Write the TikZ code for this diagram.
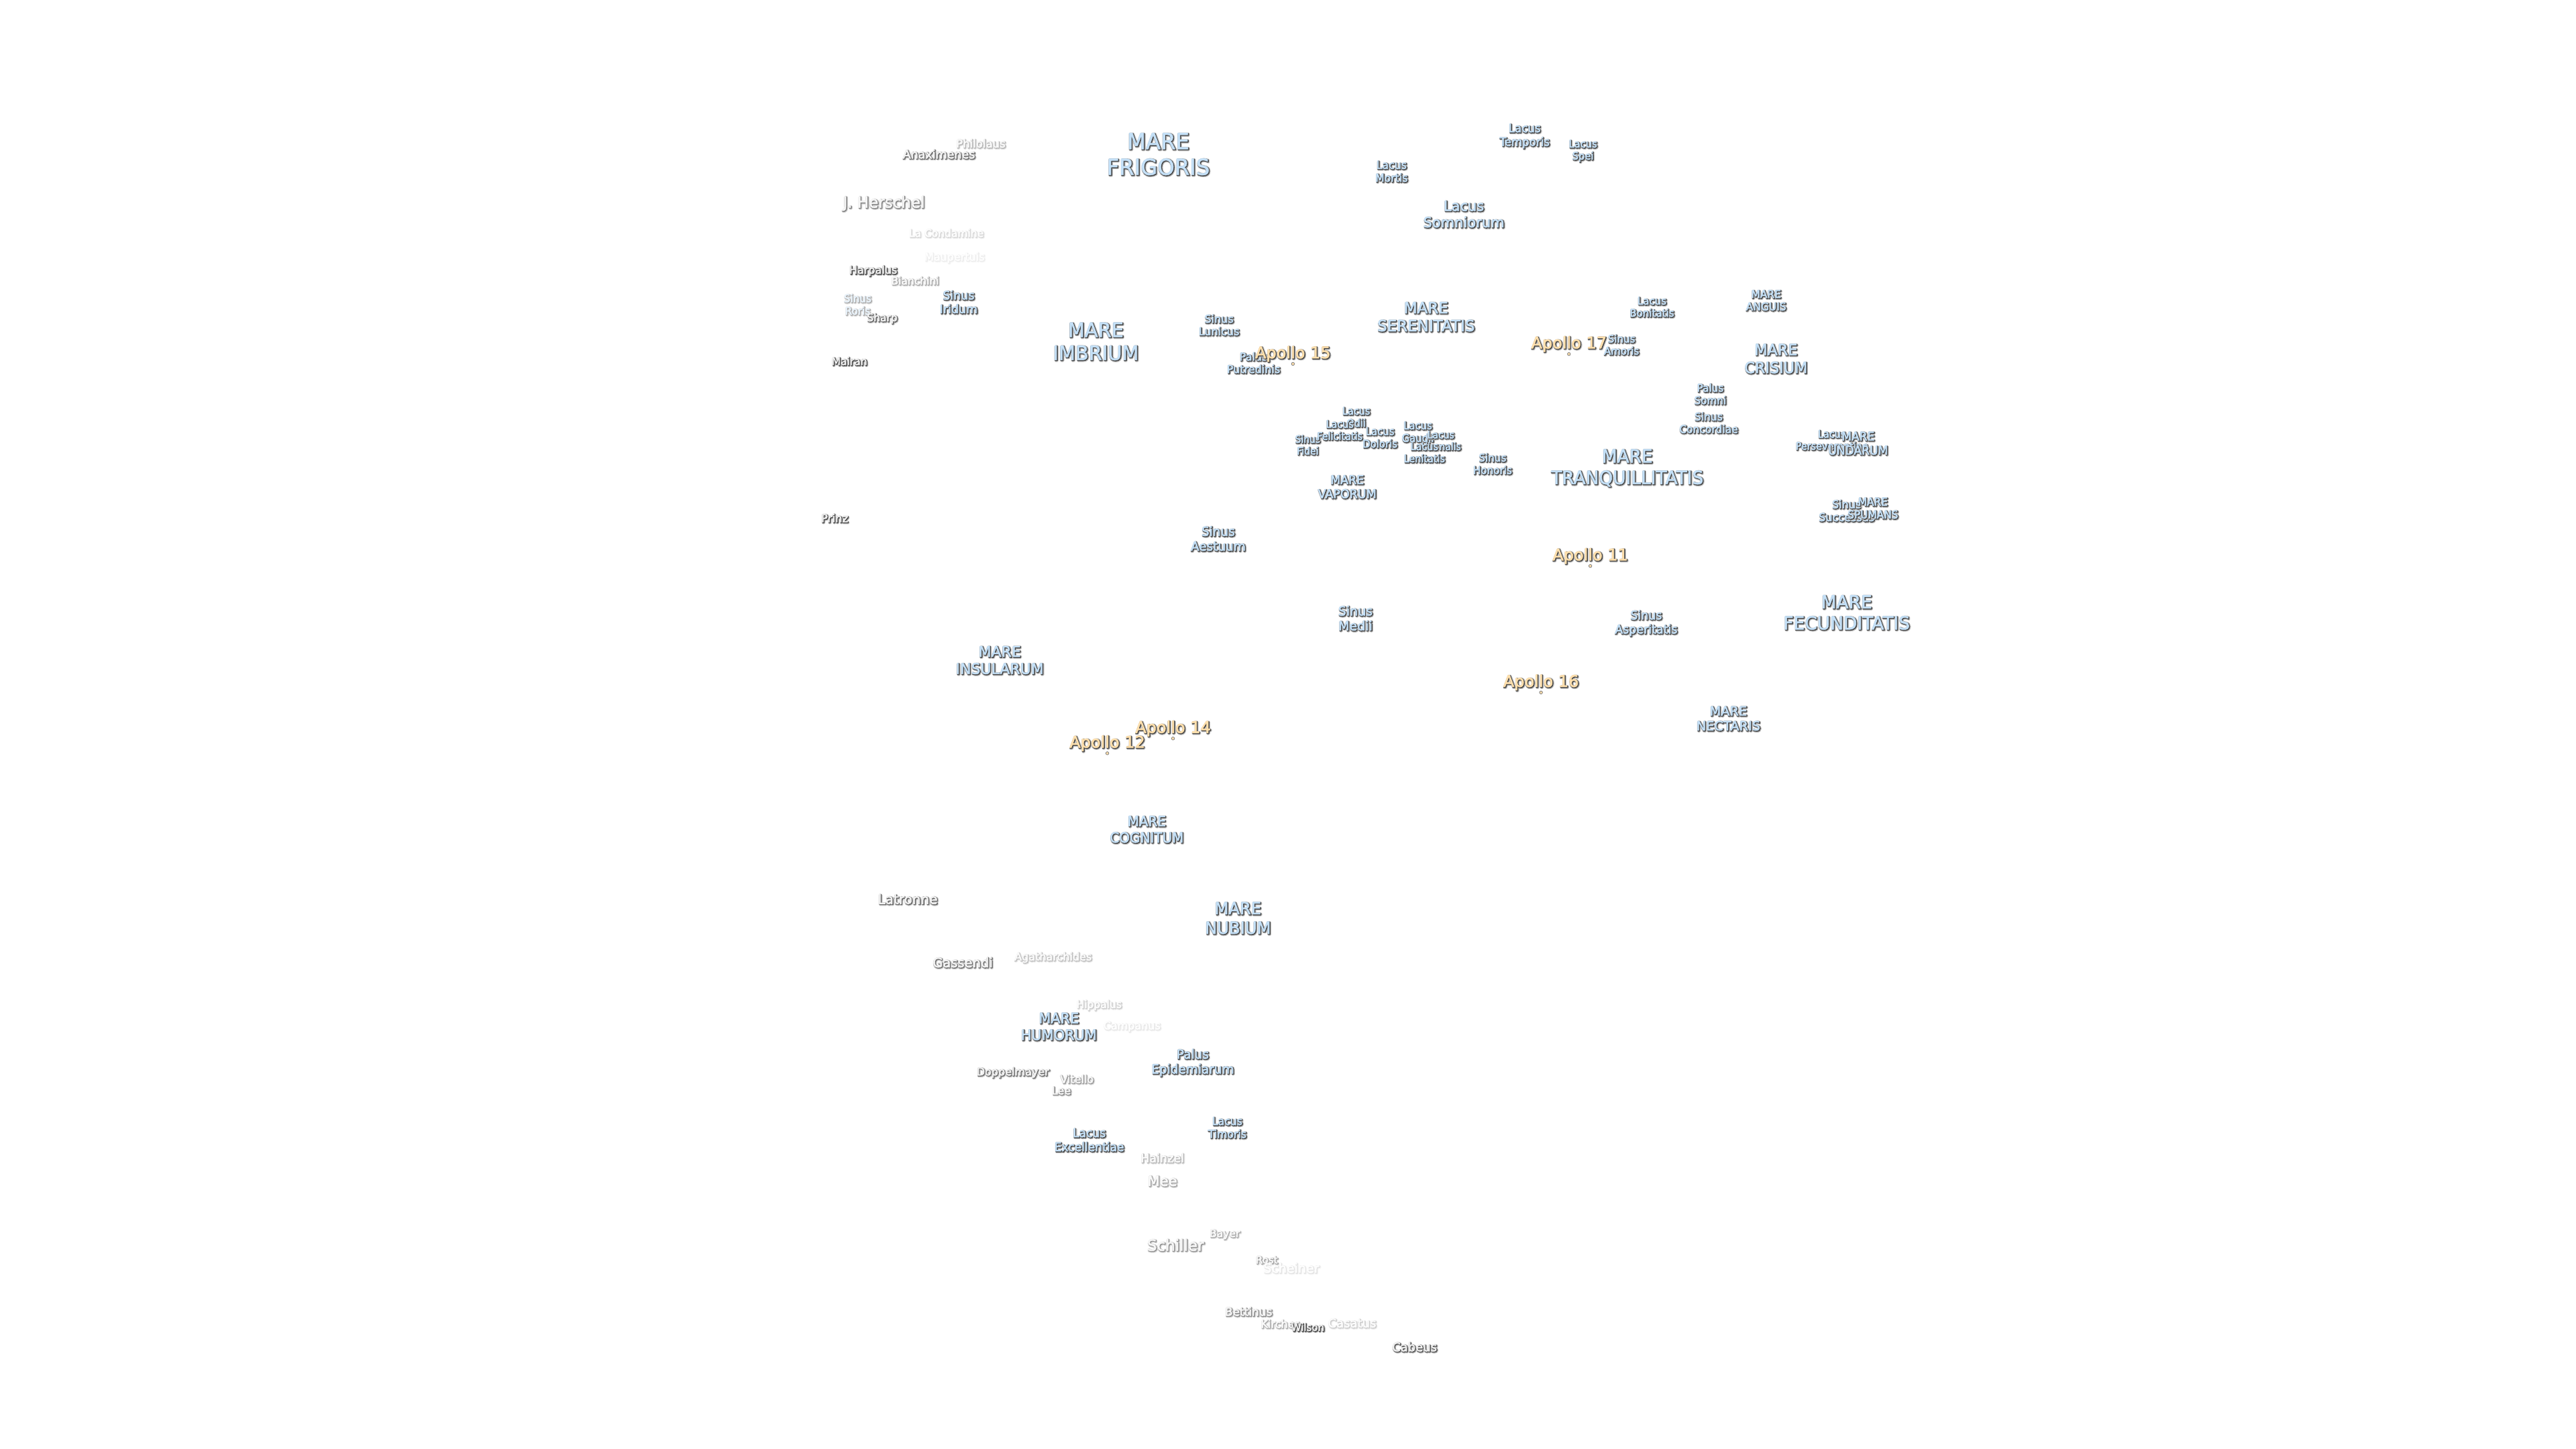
\documentclass[tikz,border=0pt]{standalone}
\usepackage{fontspec}
\setmainfont{DejaVu Sans}
\def\getcol#1,#2,#3;{\def\colR{#1}\def\colG{#2}\def\colB{#3}}
\def\sea{.77,.88,.97}
\def\crat{.94,.94,.94}
\def\apol{1,.88,.68}
% name, x, y, size, xratio, colour, opacity, text
\newcommand\lab[8]{%
  \expandafter\getcol#6;%
  \pgfmathsetmacro\fillR{1-(1-\colR)*#7}%
  \pgfmathsetmacro\fillG{1-(1-\colG)*#7}%
  \pgfmathsetmacro\fillB{1-(1-\colB)*#7}%
  \pgfmathsetmacro\edge{1-(1-.28)*(#7)^.75}%
  \pgfmathsetmacro\halo{1-(1-.76)*(#7)^.75}%
  \pgfmathsetmacro\lineh{#4*1.164}%
  \def\lfont{\fontspec[FakeStretch=#5]{DejaVu Sans}\fontsize{#4}{\lineh}\selectfont}%
  \node (#1h) [lbl, font=\lfont,
     execute at begin node={\special{pdf:code q \halo\space \halo\space \halo\space rg \halo\space \halo\space \halo\space RG 3.6 w 1 j 2 Tr}},
     execute at end node={\special{pdf:code Q}}] at ([xshift=1.2pt,yshift=-0.7pt]#2,#3) {#8};
  \node (#1s) [lbl, font=\lfont,
     execute at begin node={\special{pdf:code q \edge\space \edge\space \edge\space rg \edge\space \edge\space \edge\space RG 1.7 w 1 j 2 Tr}},
     execute at end node={\special{pdf:code Q}}] at ([xshift=0.9pt,yshift=-0.4pt]#2,#3) {#8};
  \node (#1) [lbl, font=\lfont,
     execute at begin node={\special{pdf:code q \fillR\space \fillG\space \fillB\space rg \fillR\space \fillG\space \fillB\space RG 0.55 w 1 j 2 Tr}},
     execute at end node={\special{pdf:code Q}}] at ([yshift=0.5pt]#2,#3) {#8};
}
\tikzset{lbl/.style={align=center,inner sep=0pt,outer sep=0pt},
  sitedot/.style={circle,inner sep=0pt,minimum size=4.5pt,fill={rgb,1:red,1;green,.88;blue,.68},draw=black!50,line width=.8pt}}
\begin{document}
\begin{tikzpicture}[x=2.449pt,y=-2.449pt]
\fill[white] (0,0) rectangle (1568,882);
\useasboundingbox (0,0) rectangle (1568,882);
\lab{a1}{705}{94}{33}{.98}{\sea}{1}{MARE\\FRIGORIS}
\lab{a2}{597}{87.5}{16.5}{1}{\crat}{.3}{Philolaus}
\lab{a3}{571.5}{94}{17.5}{1}{\crat}{.75}{Anaximenes}
\lab{a4}{538}{124}{23}{1}{\crat}{.6}{J. Herschel}
\lab{a5}{576}{142}{15.5}{1}{\crat}{.13}{La Condamine}
\lab{a6}{581}{157}{16}{1}{\crat}{.05}{Maupertuis}
\lab{a7}{531.5}{165}{16}{1}{\crat}{1}{Harpalus}
\lab{a8}{557}{171}{15.5}{1}{\crat}{.35}{Bianchini}
\lab{a9}{522}{185.5}{16}{.95}{\sea}{.35}{Sinus\\Roris}
\lab{a10}{583.5}{184}{17.5}{1}{\sea}{1}{Sinus\\Iridum}
\lab{a11}{537}{194}{15.5}{1}{\crat}{.8}{Sharp}
\lab{a12}{517}{220}{15.5}{1}{\crat}{1}{Mairan}
\lab{a13}{667}{208}{29.5}{.98}{\sea}{1}{MARE\\IMBRIUM}
\lab{a14}{742}{198}{16}{1}{\sea}{1}{Sinus\\Lunicus}
\lab{a15}{763}{221}{16}{1}{\sea}{1}{Palus\\Putredinis}
\lab{a16}{787}{215.6}{24}{1}{\apol}{1}{Apollo 15}
\lab{b1}{847}{104.5}{16.5}{.95}{\sea}{1}{Lacus\\Mortis}
\lab{b2}{928}{83}{17.5}{.95}{\sea}{1}{Lacus\\Temporis}
\lab{b3}{963.5}{92}{15.5}{.95}{\sea}{1}{Lacus\\Spei}
\lab{b4}{891}{130.5}{21}{1}{\sea}{1}{Lacus\\Somniorum}
\lab{b5}{868}{193}{23}{1}{\sea}{1}{MARE\\SERENITATIS}
\lab{b6}{955}{209.6}{24}{1}{\apol}{1}{Apollo 17}
\lab{b7}{1005.5}{187}{15.5}{.97}{\sea}{1}{Lacus\\Bonitatis}
\lab{b8}{1075}{183}{16}{.97}{\sea}{1}{MARE\\ANGUIS}
\lab{b9}{987}{210}{15.5}{.97}{\sea}{1}{Sinus\\Amoris}
\lab{b10}{1081}{218.5}{23}{.97}{\sea}{1}{MARE\\CRISIUM}
\lab{b11}{1041}{240}{16}{.95}{\sea}{1}{Palus\\Somni}
\lab{b12}{1040}{257.5}{16}{.97}{\sea}{1}{Sinus\\Concordiae}
\lab{b13}{1115}{268}{15.5}{.93}{\sea}{1}{Lacus\\Perseverantiae}
\lab{b14}{1131}{270}{18}{.95}{\sea}{1}{MARE\\UNDARUM}
\lab{b15}{1124}{311}{16.5}{.97}{\sea}{1}{Sinus\\Successus}
\lab{b16}{1140}{309.5}{16.5}{.93}{\sea}{1}{MARE\\SPUMANS}
\lab{b17}{990.5}{285}{27.5}{.96}{\sea}{1}{MARE\\TRANQUILLITATIS}
\lab{c1}{908.5}{282.5}{16}{.95}{\sea}{1}{Sinus\\Honoris}
\lab{c2}{820}{296.5}{18}{.97}{\sea}{1}{MARE\\VAPORUM}
\lab{c3}{796}{271}{15}{.93}{\sea}{1}{Sinus\\Fidei}
\lab{c4}{825.5}{254}{15.5}{.93}{\sea}{1}{Lacus\\Odii}
\lab{c5}{815.5}{262}{15.5}{.93}{\sea}{1}{Lacus\\Felicitatis}
\lab{c6}{840}{266.5}{16}{.93}{\sea}{1}{Lacus\\Doloris}
\lab{c7}{863}{263}{16}{.93}{\sea}{1}{Lacus\\Gaudii}
\lab{c8}{877}{268.4}{15}{.93}{\sea}{1}{Lacus\\Hiemalis}
\lab{c9}{867}{275.6}{15.5}{.93}{\sea}{1}{Lacus\\Lenitatis}
\lab{c10}{741.5}{328}{19}{.97}{\sea}{1}{Sinus\\Aestuum}
\lab{c11}{968}{338.6}{24}{1}{\apol}{1}{Apollo 11}
\lab{c12}{825}{376.5}{19}{1}{\sea}{1}{Sinus\\Medii}
\lab{c13}{1002}{379.5}{18}{.97}{\sea}{1}{Sinus\\Asperitatis}
\lab{c14}{1124}{373}{27}{.98}{\sea}{1}{MARE\\FECUNDITATIS}
\lab{c15}{938}{415.6}{24}{1}{\apol}{1}{Apollo 16}
\lab{c16}{1052}{437.5}{19}{1.02}{\sea}{1}{MARE\\NECTARIS}
\lab{c17}{608.5}{402}{22}{1}{\sea}{1}{MARE\\INSULARUM}
\lab{c18}{508}{315.5}{16.5}{1}{\crat}{1}{Prinz}
\lab{c19}{714}{443.6}{24}{1}{\apol}{1}{Apollo 14}
\lab{c20}{674}{452.6}{24}{1}{\apol}{1}{Apollo 12}
\lab{d1}{698}{505}{21}{.95}{\sea}{1}{MARE\\COGNITUM}
\lab{d2}{552.5}{547.5}{20}{1}{\crat}{.8}{Latronne}
\lab{d3}{753.5}{559}{25}{.97}{\sea}{1}{MARE\\NUBIUM}
\lab{d4}{586}{586}{19.5}{1}{\crat}{.7}{Gassendi}
\lab{d5}{641}{583}{16}{1}{\crat}{.25}{Agatharchides}
\lab{d6}{669}{612}{15.5}{1}{\crat}{.18}{Hippalus}
\lab{d7}{689}{625}{16}{1}{\crat}{.07}{Campanus}
\lab{d8}{644.5}{625}{21.5}{.97}{\sea}{1}{MARE\\HUMORUM}
\lab{d9}{726}{647}{19}{.97}{\sea}{1}{Palus\\Epidemiarum}
\lab{d10}{616.5}{653}{16}{1}{\crat}{.7}{Doppelmayer}
\lab{d11}{655.5}{657}{16}{1}{\crat}{.45}{Vitello}
\lab{d12}{646}{664}{16}{1}{\crat}{.55}{Lee}
\lab{d13}{663}{694}{18}{.95}{\sea}{1}{Lacus\\Excellentiae}
\lab{d14}{747}{686.5}{16.5}{.95}{\sea}{1}{Lacus\\Timoris}
\lab{d15}{707.5}{705}{17.5}{1}{\crat}{.3}{Hainzel}
\lab{d16}{707.5}{719}{21}{1}{\crat}{.4}{Mee}
\lab{d17}{715.5}{758}{23}{1}{\crat}{.5}{Schiller}
\lab{d18}{745.5}{751.5}{15.5}{1}{\crat}{.35}{Bayer}
\lab{d19}{771}{767}{15}{1}{\crat}{.4}{Rost}
\lab{d20}{786}{772}{19}{1}{\crat}{.08}{Scheiner}
\lab{d21}{760}{798.5}{17}{1}{\crat}{.55}{Bettinus}
\lab{d22}{779}{806}{16}{1}{\crat}{.35}{Kircher}
\lab{d23}{796}{808}{15}{1}{\crat}{1}{Wilson}
\lab{d24}{823}{805.5}{18}{1}{\crat}{.18}{Casatus}
\lab{d25}{861}{820}{18}{1}{\crat}{.9}{Cabeus}
\node[sitedot] (dot15) at (787,221.5) {};
\node[sitedot] (dot17) at (955,215.5) {};
\node[sitedot] (dot11) at (968,344.5) {};
\node[sitedot] (dot16) at (938,421.5) {};
\node[sitedot] (dot14) at (714,449.5) {};
\node[sitedot] (dot12) at (674,458.5) {};
\end{tikzpicture}
\end{document}
